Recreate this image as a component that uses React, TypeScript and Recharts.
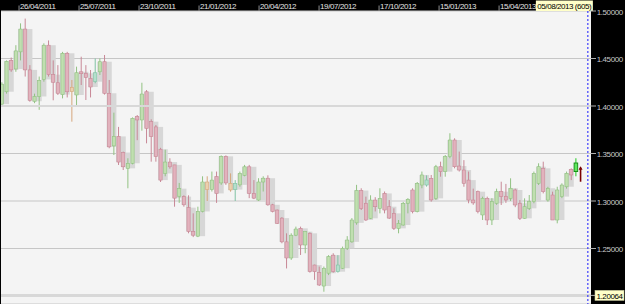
import React from 'react';
import { ComposedChart, Bar, XAxis, YAxis, CartesianGrid, ReferenceLine } from 'recharts';

// Weekly OHLC (index 0 = first visible week)
const OPEN = [
  1.402, 1.415, 1.448, 1.439, 1.457, 1.481, 1.438, 1.405, 1.410, 1.428,
  1.464, 1.433, 1.4245, 1.412, 1.4555, 1.4151, 1.4116, 1.436, 1.4344, 1.429,
  1.4256, 1.436, 1.4466, 1.4134, 1.358, 1.368, 1.351, 1.3344, 1.3397, 1.3888,
  1.3853, 1.415, 1.3835, 1.378, 1.3545, 1.329, 1.341, 1.338, 1.305, 1.3046,
  1.293, 1.268, 1.263, 1.289, 1.320, 1.312, 1.3256, 1.319, 1.347, 1.3186,
  1.312, 1.317, 1.327, 1.336, 1.308, 1.301, 1.320, 1.324, 1.296, 1.2905,
  1.282, 1.257, 1.240, 1.264, 1.2712, 1.2537, 1.266, 1.2326, 1.2246, 1.2105,
  1.224, 1.243, 1.2256, 1.2292, 1.2502, 1.257, 1.277, 1.311, 1.2976, 1.2818,
  1.301, 1.2923, 1.308, 1.294, 1.287, 1.2712, 1.2747, 1.2976, 1.3116, 1.2888,
  1.3168, 1.3168, 1.3239, 1.3028, 1.3361, 1.3309, 1.3467, 1.3642, 1.3368, 1.3326,
  1.322, 1.301, 1.3098, 1.2853, 1.3028, 1.280, 1.2976, 1.3098, 1.305, 1.3028,
  1.3116, 1.2976, 1.2818, 1.2923, 1.2993, 1.3186, 1.3344, 1.301, 1.3063, 1.280,
  1.3046, 1.315, 1.3333, 1.331,
];
const HIGH = [
  1.425, 1.448, 1.451, 1.464, 1.487, 1.492, 1.443, 1.413, 1.431, 1.466,
  1.469, 1.448, 1.443, 1.457, 1.457, 1.4274, 1.4414, 1.4519, 1.443, 1.4379,
  1.450, 1.450, 1.4537, 1.4274, 1.393, 1.378, 1.352, 1.345, 1.388, 1.3905,
  1.4245, 1.4168, 1.386, 1.380, 1.356, 1.354, 1.345, 1.338, 1.319, 1.306,
  1.306, 1.287, 1.294, 1.326, 1.326, 1.331, 1.331, 1.348, 1.348, 1.3291,
  1.322, 1.331, 1.338, 1.338, 1.322, 1.324, 1.326, 1.327, 1.297, 1.291,
  1.283, 1.266, 1.266, 1.273, 1.273, 1.268, 1.267, 1.233, 1.231, 1.231,
  1.243, 1.245, 1.243, 1.252, 1.263, 1.282, 1.317, 1.3134, 1.3046, 1.306,
  1.304, 1.3134, 1.310, 1.301, 1.2923, 1.280, 1.299, 1.303, 1.3134, 1.320,
  1.331, 1.327, 1.3274, 1.338, 1.3414, 1.3484, 1.3713, 1.366, 1.352, 1.343,
  1.331, 1.313, 1.311, 1.3046, 1.3046, 1.303, 1.313, 1.3203, 1.318, 1.3239,
  1.313, 1.301, 1.3028, 1.3063, 1.331, 1.3397, 1.3414, 1.315, 1.3098, 1.315,
  1.3186, 1.331, 1.3344, 1.345,
];
const LOW = [
  1.400, 1.413, 1.436, 1.436, 1.448, 1.431, 1.4045, 1.403, 1.396, 1.4256,
  1.431, 1.406, 1.4116, 1.408, 1.409, 1.3835, 1.401, 1.4221, 1.4063, 1.409,
  1.4239, 1.4326, 1.412, 1.3555, 1.3484, 1.3379, 1.3326, 1.3134, 1.3386, 1.364,
  1.374, 1.3607, 1.3414, 1.3414, 1.320, 1.326, 1.334, 1.294, 1.298, 1.294,
  1.266, 1.262, 1.262, 1.288, 1.300, 1.310, 1.298, 1.317, 1.317, 1.3098,
  1.300, 1.315, 1.326, 1.303, 1.302, 1.300, 1.310, 1.295, 1.288, 1.2758,
  1.2555, 1.229, 1.238, 1.263, 1.2432, 1.245, 1.2246, 1.217, 1.2105, 1.2045,
  1.222, 1.2246, 1.2246, 1.2285, 1.2484, 1.256, 1.275, 1.2905, 1.279, 1.281,
  1.289, 1.287, 1.287, 1.281, 1.2695, 1.266, 1.274, 1.287, 1.287, 1.288,
  1.3134, 1.3151, 1.2993, 1.3011, 1.3256, 1.3256, 1.345, 1.3344, 1.331, 1.315,
  1.2976, 1.296, 1.287, 1.280, 1.2747, 1.2747, 1.296, 1.2958, 1.298, 1.300,
  1.2935, 1.280, 1.2812, 1.2905, 1.2976, 1.3168, 1.308, 1.2993, 1.280, 1.2765,
  1.303, 1.313, 1.322, 1.326,
];
const CLOSE = [
  1.423, 1.447, 1.438, 1.458, 1.481, 1.438, 1.406, 1.410, 1.427, 1.464,
  1.433, 1.425, 1.4134, 1.4555, 1.415, 1.4197, 1.435, 1.434, 1.430, 1.420,
  1.435, 1.4466, 1.4134, 1.357, 1.368, 1.341, 1.336, 1.3396, 1.387, 1.3853,
  1.4126, 1.3765, 1.3677, 1.3467, 1.322, 1.341, 1.336, 1.303, 1.313, 1.296,
  1.268, 1.264, 1.289, 1.320, 1.312, 1.322, 1.308, 1.347, 1.319, 1.3116,
  1.3186, 1.329, 1.336, 1.308, 1.303, 1.320, 1.324, 1.296, 1.289, 1.2765,
  1.257, 1.240, 1.264, 1.2705, 1.2537, 1.2677, 1.2256, 1.2256, 1.2116, 1.2292,
  1.2414, 1.2256, 1.2326, 1.2502, 1.2589, 1.280, 1.311, 1.292, 1.280, 1.301,
  1.294, 1.3028, 1.2905, 1.282, 1.2712, 1.2765, 1.2976, 1.3018, 1.2888, 1.3186,
  1.3274, 1.3221, 1.3011, 1.3361, 1.3309, 1.3467, 1.3642, 1.3361, 1.3326, 1.3186,
  1.301, 1.298, 1.2888, 1.3028, 1.280, 1.2993, 1.3098, 1.3046, 1.301, 1.3134,
  1.2958, 1.2818, 1.294, 1.2993, 1.3291, 1.3361, 1.3098, 1.3134, 1.280, 1.3116,
  1.3168, 1.3291, 1.3274, 1.340,
];
const ORANGE_WEEKS = [15, 44, 49];
const TEAL_WEEKS = [20, 50, 72, 91];
const ARROW = { week: 124, low: 1.3203, high: 1.3361 };

const FIRST_WEEK = Date.UTC(2011, 2, 31);
const TICK_LABELS = [
  '26/04/2011', '25/07/2011', '23/10/2011', '21/01/2012', '20/04/2012',
  '19/07/2012', '17/10/2012', '15/01/2013', '15/04/2013',
];
const LAST_BAR_LABEL = '05/08/2013 (605)';
const PRICE_TICKS = [1.5, 1.45, 1.4, 1.35, 1.3, 1.25];
const LOW_PRICE = 1.20064;
const SHIFT_X = 125.6;

const W = 625;
const H = 304;
const XMIN = -0.15;
const XMAX = 126.27;
const PLOT_W = 590;
const PITCH = PLOT_W / (XMAX - XMIN);
const FONT = '"Liberation Sans", Arial, sans-serif';

const weekOf = (s: string) => {
  const [d, m, y] = s.split('/').map(Number);
  return (Date.UTC(y, m - 1, d) - FIRST_WEEK) / (7 * 86400000);
};
const TICK_POS = TICK_LABELS.map(weekOf);

const N = OPEN.length;
const rows: any[] = [];
for (let i = 0; i < N; i++) {
  let lo = Infinity;
  let hi = -Infinity;
  for (let k = Math.max(0, i - 1); k <= i; k++) {
    lo = Math.min(lo, OPEN[k], CLOSE[k]);
    hi = Math.max(hi, OPEN[k], CLOSE[k]);
  }
  const kind = i === N - 1 ? 'current'
    : ORANGE_WEEKS.includes(i) ? 'orange'
    : TEAL_WEEKS.includes(i) ? 'teal'
    : CLOSE[i] >= OPEN[i] ? 'up' : 'down';
  rows.push({ i, o: OPEN[i], h: HIGH[i], l: LOW[i], c: CLOSE[i], range: [LOW[i], HIGH[i]], box: i === N - 1 ? null : [lo, hi], kind });
}
rows.push({ i: ARROW.week, o: ARROW.low, h: ARROW.high, l: ARROW.low, c: ARROW.high, range: [ARROW.low, ARROW.high], box: null, kind: 'arrow' });

const COLORS: Record<string, { fill: string; edge: string }> = {
  up: { fill: '#c0dfb0', edge: '#92c283' },
  down: { fill: '#e2b2bd', edge: '#c88896' },
  orange: { fill: '#ecd0ae', edge: '#d6a77c' },
  teal: { fill: '#b4e0cc', edge: '#80c2a4' },
  current: { fill: '#5ee85e', edge: '#118811' },
};

const norm = (y: number, h: number) => (h < 0 ? [y + h, y] : [y, y + h]);

const BoxShape = (props: any) => {
  const { x, y, width, height } = props;
  if (x == null || y == null) return null;
  const [top, bot] = norm(y, height);
  const cx = x + width / 2;
  return <rect x={cx - PITCH / 2 - 0.2} y={top} width={PITCH + 0.4} height={Math.max(bot - top, 1)} fill="#d7d7d7" />;
};

const CandleShape = (props: any) => {
  const { x, y, width, height, payload } = props;
  if (x == null || y == null || !payload) return null;
  const [top, bot] = norm(y, height);
  const cx = x + width / 2;
  const { o, h, l, c, kind } = payload;
  const py = (p: number) => top + ((h - p) / (h - l)) * (bot - top);
  if (kind === 'arrow') {
    return (
      <g>
        <line x1={cx} x2={cx} y1={top + 1} y2={bot} stroke="#7a0000" strokeWidth={1.6} />
        <polygon points={`${cx - 2},${top + 3} ${cx + 2},${top + 3} ${cx},${top - 0.5}`} fill="#7a0000" />
      </g>
    );
  }
  const col = COLORS[kind];
  const bt = py(Math.max(o, c));
  const bb = py(Math.min(o, c));
  const bw = kind === 'current' ? 3.6 : 3.2;
  return (
    <g>
      <line x1={cx} x2={cx} y1={top} y2={bot} stroke={kind === 'current' ? '#22cc22' : col.edge} strokeWidth={1} />
      <rect x={cx - bw / 2} y={bt} width={bw} height={Math.max(bb - bt, 1)} fill={col.fill} stroke={col.edge} strokeWidth={kind === 'current' ? 0.9 : 0.6} />
    </g>
  );
};

const TopTick = (props: any) => {
  const { x, index } = props;
  const label = TICK_LABELS[index];
  if (label == null) return null;
  return (
    <g>
      <line x1={x} x2={x} y1={5.5} y2={11} stroke="#8c8c8c" strokeWidth={1} />
      <text x={x + 1} y={8.7} fill="#e4e4e4" fontSize={8} fontFamily={FONT} letterSpacing={-0.4}>{label}</text>
    </g>
  );
};

const RightTick = (props: any) => {
  const { y, payload } = props;
  const v = payload.value as number;
  const x0 = 1 + PLOT_W;
  if (Math.abs(v - LOW_PRICE) < 1e-6) {
    return (
      <g>
        <line x1={x0} x2={x0 + 5} y1={y} y2={y} stroke="#b0b0b0" />
        <rect x={x0 + 4} y={y - 5} width={29} height={10} fill="#ffffc8" stroke="#c8c8a0" strokeWidth={0.6} />
        <text x={x0 + 5.5} y={y + 3.2} fill="#000" fontSize={8} fontFamily={FONT} letterSpacing={-0.4}>{v.toFixed(5)}</text>
      </g>
    );
  }
  return (
    <g>
      <line x1={x0} x2={x0 + 5} y1={y} y2={y} stroke="#b0b0b0" />
      <text x={x0 + 5.7} y={y + 3.6} fill="#c8c8c8" fontSize={8} fontFamily={FONT} letterSpacing={-0.4}>{v.toFixed(5)}</text>
    </g>
  );
};

const ShiftLabel = (props: any) => {
  const vb = props.viewBox || {};
  const x = vb.x ?? 0;
  const right = x + 5;
  const w = 57;
  return (
    <g>
      <rect x={right - w} y={0.5} width={w} height={10.5} fill="#ffffc8" />
      <text x={right - w + 1.5} y={8.7} fill="#000" fontSize={8} fontFamily={FONT} letterSpacing={-0.45}>{LAST_BAR_LABEL}</text>
    </g>
  );
};

export default function App() {
  return (
    <div style={{ position: 'absolute', left: 0, top: 0, width: W, height: H, background: '#000' }}>
      <ComposedChart width={W} height={H} data={rows} margin={{ top: 0, right: 0, bottom: 0, left: 1 }} barCategoryGap={0} barGap={0}>
        <CartesianGrid fill="#f4f4f4" vertical={false} stroke="#c6c6c6" strokeDasharray="" />
        <XAxis
          xAxisId="a"
          orientation="top"
          type="number"
          dataKey="i"
          domain={[XMIN, XMAX]}
          allowDataOverflow
          ticks={TICK_POS}
          interval={0}
          height={11}
          axisLine={false}
          tickLine={false}
          tick={<TopTick />}
        />
        <XAxis xAxisId="b" type="number" dataKey="i" domain={[XMIN, XMAX]} allowDataOverflow hide />
        <YAxis
          orientation="right"
          type="number"
          domain={[1.191579, 1.5]}
          allowDataOverflow
          ticks={[...PRICE_TICKS, LOW_PRICE]}
          interval={0}
          width={34}
          axisLine={false}
          tickLine={false}
          tick={<RightTick />}
        />
        <ReferenceLine xAxisId="a" y={1.4} stroke="#d8d8d8" strokeWidth={2} />
        <ReferenceLine xAxisId="a" y={LOW_PRICE} stroke="#d8d8d8" strokeWidth={3} />
        <Bar xAxisId="b" dataKey="box" shape={<BoxShape />} isAnimationActive={false} />
        <Bar xAxisId="a" dataKey="range" shape={<CandleShape />} isAnimationActive={false} />
        <ReferenceLine xAxisId="a" x={SHIFT_X} stroke="#1a1aff" strokeDasharray="2 2" strokeWidth={1} label={<ShiftLabel />} />
      </ComposedChart>
    </div>
  );
}
